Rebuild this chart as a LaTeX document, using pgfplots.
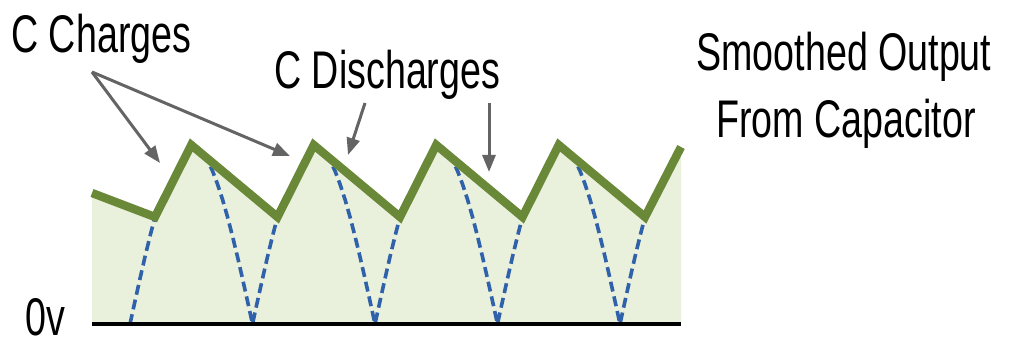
\documentclass[border=0pt]{standalone}
\usepackage{fontspec}
\setmainfont[FakeStretch=0.71]{Liberation Sans}
\usepackage{pgfplots}
\pgfplotsset{compat=1.18}
\usetikzlibrary{arrows.meta}
\definecolor{linegreen}{RGB}{105,136,56}
\definecolor{fillgreen}{RGB}{233,240,219}
\definecolor{dashblue}{RGB}{48,98,172}
\definecolor{arrgray}{RGB}{100,100,100}
\begin{document}
\begin{tikzpicture}
\path[use as bounding box] (0,0) rectangle (509.5pt,172pt);
\begin{axis}[hide axis, scale only axis, width=509.5pt, height=172pt,
  xmin=0, xmax=1019, ymin=0, ymax=344, clip=false]
% fill under smoothed output
\addplot[fill=fillgreen, draw=none] coordinates {
 (92,20) (92,151) (155,127) (191.25,199) (277.5,127) (313.75,199) (400,127)
 (436.25,199) (522.5,127) (558.75,199) (645,127) (681,197) (681,20)} -- cycle;
% rectified sine (dashed)
\addplot[dashblue, line width=1.8pt, dash pattern=on 5pt off 2.5pt] coordinates {
 (130,20)(135,42.9)(140,65.4)(145,87.2)(150,107.8)(155,127.1)};
\addplot[dashblue, line width=1.8pt, dash pattern=on 5pt off 2.5pt] coordinates {
 (191.25,199)(197.5,196.7)(202.5,191.6)(207.5,183.7)(212.5,173.1)(217.5,159.9)(222.5,144.6)(227.5,127.1)(232.5,107.8)(237.5,87.2)(242.5,65.4)(247.5,42.9)(252.5,20)(257.5,42.9)(262.5,65.4)(267.5,87.2)(272.5,107.8)(277.5,127.1)};
\addplot[dashblue, line width=1.8pt, dash pattern=on 5pt off 2.5pt] coordinates {
 (313.75,199)(320,196.7)(325,191.6)(330,183.7)(335,173.1)(340,159.9)(345,144.6)(350,127.1)(355,107.8)(360,87.2)(365,65.4)(370,42.9)(375,20)(380,42.9)(385,65.4)(390,87.2)(395,107.8)(400,127.1)};
\addplot[dashblue, line width=1.8pt, dash pattern=on 5pt off 2.5pt] coordinates {
 (436.25,199)(442.5,196.7)(447.5,191.6)(452.5,183.7)(457.5,173.1)(462.5,159.9)(467.5,144.6)(472.5,127.1)(477.5,107.8)(482.5,87.2)(487.5,65.4)(492.5,42.9)(497.5,20)(502.5,42.9)(507.5,65.4)(512.5,87.2)(517.5,107.8)(522.5,127.1)};
\addplot[dashblue, line width=1.8pt, dash pattern=on 5pt off 2.5pt] coordinates {
 (558.75,199)(565,196.7)(570,191.6)(575,183.7)(580,173.1)(585,159.9)(590,144.6)(595,127.1)(600,107.8)(605,87.2)(610,65.4)(615,42.9)(620,20)(625,42.9)(630,65.4)(635,87.2)(640,107.8)(645,127.1)};
% smoothed output
\addplot[linegreen, line width=4.2pt, line join=miter] coordinates {
 (92,151) (155,127) (191.25,199) (277.5,127) (313.75,199) (400,127)
 (436.25,199) (522.5,127) (558.75,199) (645,127) (681,197)};
% baseline
\addplot[black, line width=1.8pt] coordinates {(92,20) (681,20)};
% annotations
\draw[arrgray, line width=1.5pt, -{Triangle[length=8.5pt,width=6.5pt]}] (axis cs:92,272) -- (axis cs:160,181);
\draw[arrgray, line width=1.5pt, -{Triangle[length=8.5pt,width=6.5pt]}] (axis cs:92,272) -- (axis cs:290,188);
\draw[arrgray, line width=1.5pt, -{Triangle[length=8.5pt,width=6.5pt]}] (axis cs:365,241) -- (axis cs:348,189);
\draw[arrgray, line width=1.5pt, -{Triangle[length=8.5pt,width=6.5pt]}] (axis cs:489,241) -- (axis cs:489,172);
\begin{scope}[every node/.style={inner sep=0pt, anchor=base west, font=\fontsize{26.5}{30}\selectfont}]
\node at (axis cs:11,291) {C Charges};
\node at (axis cs:274,255) {C Discharges};
\node at (axis cs:696,273) {Smoothed Output};
\node at (axis cs:716,206) {From Capacitor};
\node at (axis cs:25,9) {0v};
\end{scope}
\end{axis}
\end{tikzpicture}
\end{document}
